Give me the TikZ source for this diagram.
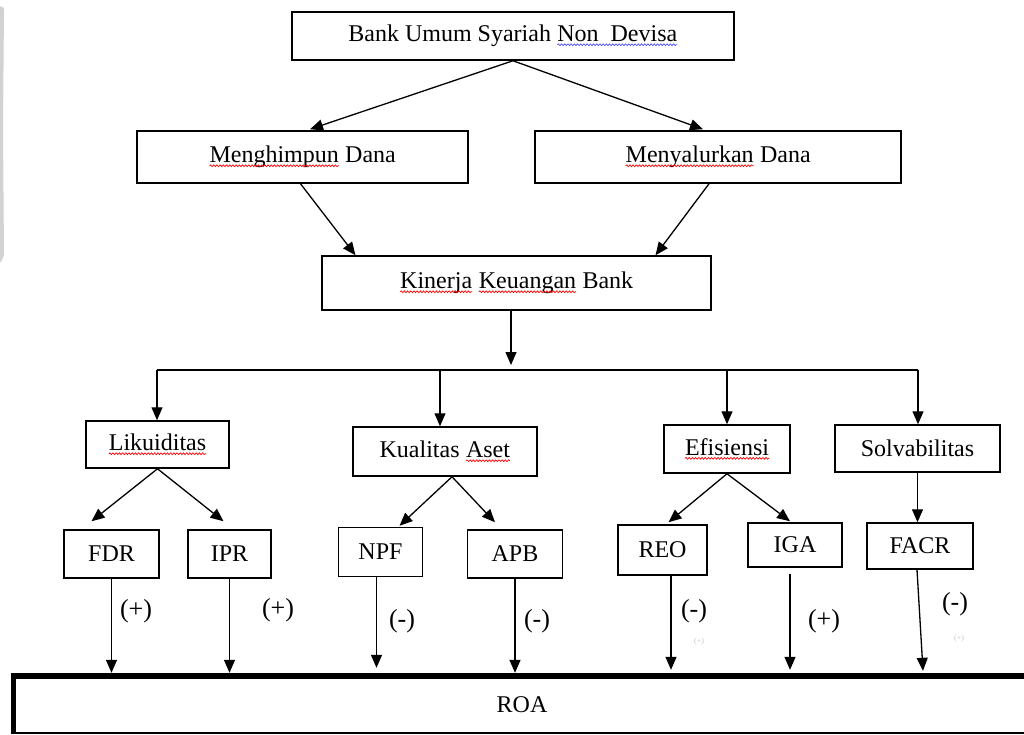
\documentclass[tikz,border=0pt]{standalone}
\usepackage{fontspec}
\setmainfont{Liberation Serif}
\usetikzlibrary{arrows.meta,calc,decorations.pathmorphing}
\newcommand\sqline[2]{\tikz[baseline=(w.base),x=1pt,y=1pt]{\node[inner sep=0pt,outer sep=0pt,minimum width=0pt,minimum height=0pt,draw=none] (w) {#2};\draw[#1,line width=0.7pt,decorate,decoration={snake,amplitude=0.9pt,segment length=3.2pt}] ([yshift=-3pt]w.base west) -- ([yshift=-3pt]w.base east);}}
\newcommand\redsq[1]{\sqline{red}{#1}}
\newcommand\bluesq[1]{\sqline{blue!70}{#1}}
\begin{document}
\begin{tikzpicture}[x=1pt,y=-1pt,
  box/.style={draw,line width=1.5pt,inner sep=0pt,font=\fontsize{24}{28}\selectfont},
  arr/.style={line width=1.3pt,-{Triangle[length=13pt,width=11pt]}},
  sign/.style={inner sep=0pt,font=\fontsize{26}{30}\selectfont},
  ghost/.style={inner sep=0pt,text=gray!45,font=\fontsize{8}{9}\selectfont}]
\useasboundingbox (0,0) rectangle (1024,734);
\fill[gray!35] (0,6) -- (4,8) -- (3,130) -- (4,255) -- (1,262) -- (0,262) -- cycle;

\node[box,minimum width=442pt,minimum height=48pt] (top) at (513,36) {Bank Umum Syariah \bluesq{Non~~Devisa}};
\node[box,minimum width=331pt,minimum height=52pt] (mh) at (302.5,157) {\redsq{Menghimpun} Dana};
\node[box,minimum width=366pt,minimum height=52pt] (my) at (718,157) {\redsq{Menyalurkan} Dana};
\node[box,minimum width=389pt,minimum height=54pt] (kin) at (516.5,283) {\redsq{Kinerja} \redsq{Keuangan} Bank};

\node[box,minimum width=143pt,minimum height=47pt] (lik) at (157.5,444.5) {\redsq{Likuiditas}};
\node[box,minimum width=184pt,minimum height=49pt] (kua) at (445,451.5) {Kualitas \redsq{Aset}};
\node[box,minimum width=126pt,minimum height=48pt] (efi) at (727,449) {\redsq{Efisiensi}};
\node[box,minimum width=165pt,minimum height=47pt] (sol) at (917.5,448.5) {Solvabilitas};

\node[box,minimum width=95pt,minimum height=48pt] (fdr) at (111.5,554) {FDR};
\node[box,minimum width=83pt,minimum height=48pt] (ipr) at (229.5,554) {IPR};
\node[box,minimum width=84pt,minimum height=49pt] (npf) at (380.5,552) {NPF};
\node[box,minimum width=95pt,minimum height=48pt] (apb) at (515,554) {APB};
\node[box,minimum width=89pt,minimum height=50pt] (reo) at (662.5,550) {REO};
\node[box,minimum width=94pt,minimum height=44pt] (iga) at (795,545) {IGA};
\node[box,minimum width=106pt,minimum height=46pt] (facr) at (920,546) {FACR};

\node[inner sep=0pt,minimum width=1020pt,minimum height=57pt,font=\fontsize{24}{28}\selectfont] (roa) at (522,704.5) {ROA};
\draw[line width=2pt] (roa.north west) -- (roa.south west) -- (roa.south east);
\draw[line width=4pt] ([xshift=2pt]roa.north west) -- ([xshift=2pt]roa.south west);
\draw[line width=5.5pt] ([xshift=-0.75pt]roa.north west) -- (roa.north east);

% top level
\draw[arr] (top.south) -- ([xshift=7.5pt,yshift=1pt]mh.north);
\draw[arr] (top.south) -- ([xshift=-15pt,yshift=1pt]my.north);
\draw[arr] ([xshift=-2pt]mh.south) -- ([xshift=-161pt]kin.north);
\draw[arr] ([xshift=-9pt]my.south) -- ([xshift=139pt]kin.north);

% split
\coordinate (sp) at (511,370);
\coordinate (b1) at (157,370);
\coordinate (b2) at (440,370);
\coordinate (b3) at (727,370);
\coordinate (b4) at (918,370);
\draw[arr] (kin.south -| sp) -- ([yshift=5pt]sp);
\draw[line width=1.3pt] (b1) -- (b4);
\draw[arr] (b1) -- (b1 |- lik.north);
\draw[arr] (b2) -- (b2 |- kua.north);
\draw[arr] (b3) -- (b3 |- efi.north);
\draw[arr] (b4) -- (b4 |- sol.north);

% second level
\draw[arr] (lik.south) -- ([xshift=-20pt,yshift=8pt]fdr.north);
\draw[arr] (lik.south) -- ([xshift=-6pt,yshift=8pt]ipr.north);
\draw[arr] ([xshift=7pt]kua.south) -- ([xshift=19pt,yshift=1pt]npf.north);
\draw[arr] ([xshift=7pt]kua.south) -- ([xshift=-20pt,yshift=7pt]apb.north);
\draw[arr] (efi.south) -- ([xshift=6pt,yshift=2pt]reo.north);
\draw[arr] (efi.south) -- ([xshift=-5pt,yshift=1pt]iga.north);
\draw[arr] (sol.south) -- (sol.south |- facr.north);

% to ROA
\draw[arr] (fdr.south) -- ([yshift=3pt]fdr.south |- roa.north);
\draw[arr] (ipr.south) -- ([yshift=3pt]ipr.south |- roa.north);
\draw[arr] ([xshift=-4pt]npf.south) -- ([xshift=-4pt,yshift=8pt]npf.south |- roa.north);
\draw[arr] (apb.south) -- ([yshift=3pt]apb.south |- roa.north);
\draw[arr] ([xshift=8.5pt]reo.south) -- ([xshift=8.5pt,yshift=6pt]reo.south |- roa.north);
\draw[arr] ([xshift=-5pt,yshift=-6pt]iga.south) -- ([xshift=-5pt,yshift=6pt]iga.south |- roa.north);
\draw[arr] ([xshift=-3pt]facr.south) -- ([xshift=3pt,yshift=5pt]facr.south |- roa.north);

% signs
\node[sign] (s1) at (136,611) {(+)};
\node[sign] (s2) at (278,610) {(+)};
\node[sign] (s3) at (402,621) {(-)};
\node[sign] (s4) at (537,621) {(-)};
\node[sign] (s5) at (694,611) {(-)};
\node[sign] (s6) at (824,621) {(+)};
\node[sign] (s7) at (955,604) {(-)};
\node[ghost] (g1) at (699,642) {(+)};
\node[ghost] (g2) at (959,639) {(+)};
\end{tikzpicture}
\end{document}
